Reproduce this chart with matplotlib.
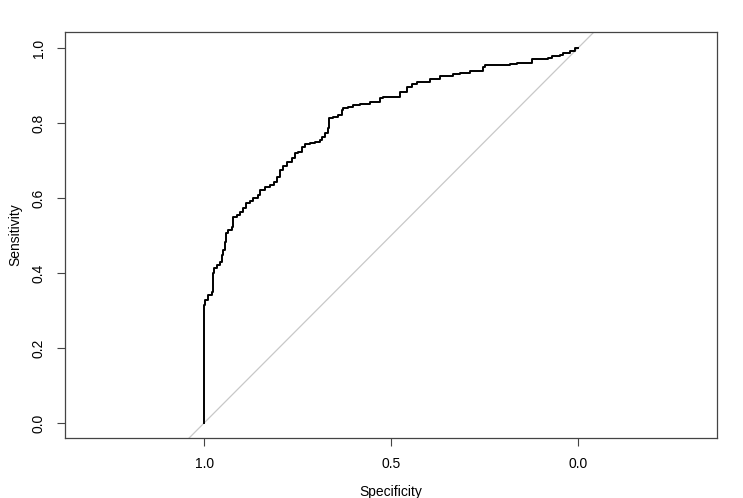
import matplotlib
matplotlib.use("Agg")
import matplotlib.pyplot as plt

plt.rcParams['font.family'] = ['Liberation Sans', 'DejaVu Sans']

# ROC corners (top of each vertical jump)
specificity = [1.000, 1.000, 0.997, 0.989, 0.979, 0.976, 0.973, 0.965, 0.957, 0.952,
               0.949, 0.944, 0.941, 0.936, 0.925, 0.922, 0.912, 0.904, 0.896, 0.888,
               0.877, 0.869, 0.856, 0.850, 0.837, 0.824, 0.813, 0.805, 0.797, 0.789,
               0.778, 0.765, 0.757, 0.749, 0.738, 0.730, 0.717, 0.703, 0.690, 0.684,
               0.676, 0.668, 0.666, 0.655, 0.642, 0.631, 0.628, 0.615, 0.602, 0.583,
               0.556, 0.529, 0.521, 0.476, 0.457, 0.444, 0.430, 0.396, 0.369, 0.334,
               0.316, 0.289, 0.254, 0.249, 0.182, 0.163, 0.123, 0.080, 0.070, 0.048,
               0.040, 0.021, 0.008, 0.000]
sensitivity = [0.000, 0.315, 0.328, 0.341, 0.349, 0.400, 0.413, 0.421, 0.429, 0.448,
               0.461, 0.483, 0.507, 0.515, 0.523, 0.549, 0.555, 0.563, 0.573, 0.587,
               0.592, 0.600, 0.608, 0.621, 0.629, 0.635, 0.643, 0.656, 0.675, 0.685,
               0.696, 0.707, 0.720, 0.723, 0.736, 0.744, 0.747, 0.749, 0.755, 0.763,
               0.773, 0.787, 0.813, 0.816, 0.821, 0.835, 0.840, 0.843, 0.848, 0.851,
               0.856, 0.867, 0.869, 0.883, 0.896, 0.904, 0.909, 0.917, 0.925, 0.931,
               0.933, 0.939, 0.949, 0.955, 0.957, 0.960, 0.971, 0.973, 0.979, 0.981,
               0.987, 0.992, 1.000, 1.000]
x_ticks = [1.0, 0.5, 0.0]
y_ticks = [0.0, 0.2, 0.4, 0.6, 0.8, 1.0]

fig = plt.figure(figsize=(7.43, 4.98), dpi=100)
ax = fig.add_axes([65/743, 1-438/498, (717-65)/743, (438-32)/498])

# chance diagonal
ax.axline((1, 0), (0, 1), color='#c8c8c8', lw=0.9)
ax.plot(specificity, sensitivity, color='black', lw=1.4, drawstyle='steps-post')

ax.set_xlim(1.372, -0.372)
ax.set_ylim(-0.04, 1.043)
ax.set_xticks(x_ticks)
ax.set_xticklabels(["%.1f" % v for v in x_ticks])
ax.set_yticks(y_ticks)
ax.set_yticklabels(["%.1f" % v for v in y_ticks], rotation=90, va='center')
ax.tick_params(length=6, width=0.8, color='#444444', labelsize=10, pad=8)
for s in ax.spines.values():
    s.set_color('#444444')
    s.set_linewidth(0.9)
ax.set_xlabel("Specificity", fontsize=10, labelpad=10)
ax.set_ylabel("Sensitivity", fontsize=10, labelpad=7)

fig.savefig("out.png", dpi=100)
